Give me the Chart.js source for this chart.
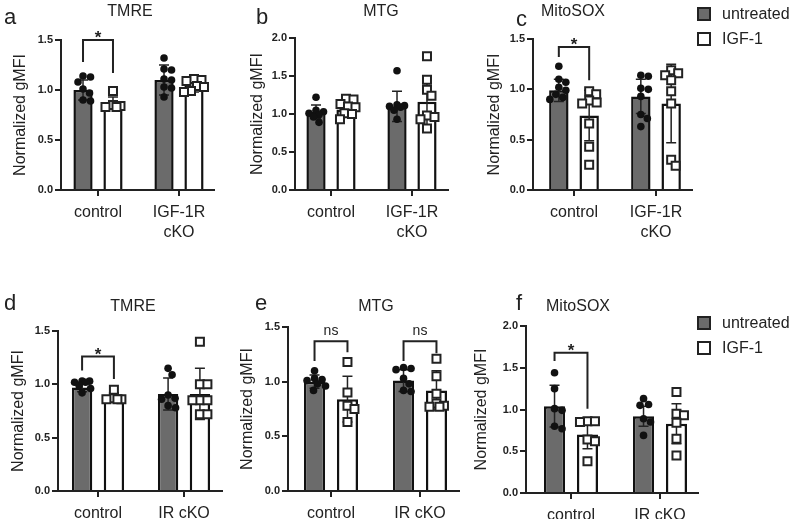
<!DOCTYPE html>
<html>
<head>
<meta charset="utf-8">
<script src="https://cdn.jsdelivr.net/npm/chart.js@4.4.1/dist/chart.umd.min.js"></script>
<style>
  html, body { margin: 0; padding: 0; background: #fff; }
  #fig { position: relative; width: 793px; height: 519px; overflow: hidden;
         font-family: "Liberation Sans", Arial, sans-serif; color: #222; }
  #fig canvas { position: absolute; }
  .letter { position: absolute; font-size: 22px; line-height: 1; }
  .ttl { position: absolute; font-size: 16px; line-height: 1; transform: translateX(-50%); white-space: nowrap; }
  .legend { position: absolute; left: 697px; font-size: 16px; }
  .legend div { display: flex; align-items: center; height: 25px; }
  .legend i { display: inline-block; width: 10px; height: 10px; border: 2.5px solid #222; margin-right: 11px; }
</style>
</head>
<body>
<div id="fig"></div>
<script>
/* Mitochondrial readouts (TMRE / MTG / MitoSOX), untreated vs IGF-1.
   Bars = mean, whiskers = SD, symbols = individual animals. */

const GROUPS_TOP = ['control', ['IGF-1R', 'cKO']];
const GROUPS_BOTTOM = ['control', 'IR cKO'];
const SERIES = ['untreated', 'IGF-1'];

// a — TMRE, IGF-1R cKO
const aUntMean = [1.00, 1.10], aUntSd = [0.10, 0.15];
const aUntPts = [[1.14, 1.13, 1.08, 1.01, 0.97, 0.90, 0.89], [1.32, 1.21, 1.20, 1.11, 1.10, 1.03, 1.02, 0.93]];
const aIgfMean = [0.87, 1.04], aIgfSd = [0.06, 0.06];
const aIgfPts = [[0.99, 0.85, 0.84, 0.83, 0.83], [1.11, 1.10, 1.09, 1.04, 1.03, 0.99, 0.98]];
const aSig = [{ g: 1, top: 1.50, l: 1.28, r: 1.17, text: '*' }];

// b — MTG, IGF-1R cKO
const bUntMean = [1.03, 1.10], bUntSd = [0.09, 0.20];
const bUntPts = [[1.22, 1.05, 1.03, 1.01, 0.99, 0.96, 0.89], [1.57, 1.12, 1.11, 1.10, 1.09, 1.05, 0.93]];
const bIgfMean = [1.06, 1.16], bIgfSd = [0.10, 0.34];
const bIgfPts = [[1.20, 1.19, 1.13, 1.10, 1.09, 1.01, 1.00, 0.93], [1.76, 1.45, 1.32, 1.24, 0.98, 0.96, 0.93, 0.81]];
const bSig = [];

// c — MitoSOX, IGF-1R cKO
const cUntMean = [0.99, 0.93], cUntSd = [0.11, 0.17];
const cUntPts = [[1.23, 1.10, 1.07, 1.02, 0.99, 0.95, 0.92, 0.90], [1.14, 1.13, 1.01, 1.00, 0.93, 0.75, 0.71, 0.63]];
const cIgfMean = [0.74, 0.86], cIgfSd = [0.25, 0.39];
const cIgfPts = [[0.98, 0.95, 0.89, 0.87, 0.86, 0.66, 0.43, 0.25], [1.19, 1.16, 1.14, 1.09, 0.98, 0.86, 0.30, 0.24]];
const cSig = [{ g: 1, top: 1.42, l: 1.32, r: 1.09, text: '*' }];

// d — TMRE, IR cKO
const dUntMean = [0.97, 0.91], dUntSd = [0.04, 0.15];
const dUntPts = [[1.03, 1.03, 1.02, 1.02, 0.99, 0.96, 0.92], [1.15, 1.09, 0.90, 0.87, 0.86, 0.80, 0.78]];
const dIgfMean = [0.88, 0.91], dIgfSd = [0.04, 0.24];
const dIgfPts = [[0.95, 0.87, 0.86, 0.86, 0.86], [1.40, 1.00, 1.00, 0.85, 0.85, 0.85, 0.72, 0.72]];
const dSig = [{ g: 1, top: 1.26, l: 1.13, r: 1.05, text: '*' }];

// e — MTG, IR cKO
const eUntMean = [1.00, 1.01], eUntSd = [0.06, 0.10];
const eUntPts = [[1.10, 1.03, 1.02, 1.01, 0.98, 0.96, 0.92], [1.13, 1.12, 1.11, 1.03, 0.98, 0.92, 0.91]];
const eIgfMean = [0.84, 0.92], eIgfSd = [0.21, 0.18];
const eIgfPts = [[1.18, 0.90, 0.78, 0.75, 0.63], [1.21, 1.05, 0.89, 0.80, 0.78, 0.77, 0.77]];
const eSig = [{ g: 1, top: 1.37, l: 1.19, r: 1.27, text: 'ns' }, { g: 2, top: 1.37, l: 1.19, r: 1.26, text: 'ns' }];

// f — MitoSOX, IR cKO
const fUntMean = [1.04, 0.92], fUntSd = [0.25, 0.12];
const fUntPts = [[1.44, 1.25, 1.01, 0.99, 0.80, 0.77], [1.13, 1.06, 1.05, 0.89, 0.85, 0.69]];
const fIgfMean = [0.70, 0.83], fIgfSd = [0.17, 0.24];
const fIgfPts = [[0.86, 0.86, 0.85, 0.64, 0.62, 0.38], [1.21, 0.95, 0.93, 0.84, 0.65, 0.45]];
const fSig = [{ g: 1, top: 1.68, l: 1.58, r: 1.01, text: '*' }];

const FONT = '"Liberation Sans", Arial, sans-serif';
const INK = '#222', GRAY = '#6b6b6b';

// layout of each panel in page pixels (axis positions, tick positions, text anchors)
const PANELS = [
  { letter: 'a', title: 'TMRE', groups: GROUPS_TOP, yMax: 1.5, sig: aSig, legendTop: null,
    unt: [aUntMean, aUntSd, aUntPts], igf: [aIgfMean, aIgfSd, aIgfPts],
    box: [0, 0, 245, 258], yTitleX: 21, axisX: 61, axisEnd: 214, yTop: 40, yBottom: 190, t1: 98, t2: 179,
    letterX: 4, letterBase: 25, titleX: 130, titleBase: 16 },
  { letter: 'b', title: 'MTG', groups: GROUPS_TOP, yMax: 2.0, sig: bSig, legendTop: null,
    unt: [bUntMean, bUntSd, bUntPts], igf: [bIgfMean, bIgfSd, bIgfPts],
    box: [245, 0, 235, 258], yTitleX: 258, axisX: 295, axisEnd: 448, yTop: 38, yBottom: 190, t1: 331, t2: 412,
    letterX: 256, letterBase: 25, titleX: 381, titleBase: 16 },
  { letter: 'c', title: 'MitoSOX', groups: GROUPS_TOP, yMax: 1.5, sig: cSig, legendTop: 1.5,
    unt: [cUntMean, cUntSd, cUntPts], igf: [cIgfMean, cIgfSd, cIgfPts],
    box: [480, 0, 215, 258], yTitleX: 495, axisX: 533, axisEnd: 692, yTop: 39, yBottom: 190, t1: 574, t2: 656,
    letterX: 516, letterBase: 27, titleX: 573, titleBase: 16 },
  { letter: 'd', title: 'TMRE', groups: GROUPS_BOTTOM, yMax: 1.5, sig: dSig, legendTop: null,
    unt: [dUntMean, dUntSd, dUntPts], igf: [dIgfMean, dIgfSd, dIgfPts],
    box: [0, 262, 235, 257], yTitleX: 19, axisX: 58, axisEnd: 222, yTop: 331, yBottom: 491, t1: 98, t2: 184,
    letterX: 4, letterBase: 311, titleX: 133, titleBase: 311 },
  { letter: 'e', title: 'MTG', groups: GROUPS_BOTTOM, yMax: 1.5, sig: eSig, legendTop: null,
    unt: [eUntMean, eUntSd, eUntPts], igf: [eIgfMean, eIgfSd, eIgfPts],
    box: [235, 262, 235, 257], yTitleX: 248, axisX: 288, axisEnd: 459, yTop: 327, yBottom: 491, t1: 331, t2: 420,
    letterX: 255, letterBase: 311, titleX: 376, titleBase: 311 },
  { letter: 'f', title: 'MitoSOX', groups: GROUPS_BOTTOM, yMax: 2.0, sig: fSig, legendTop: 310,
    unt: [fUntMean, fUntSd, fUntPts], igf: [fIgfMean, fIgfSd, fIgfPts],
    box: [470, 262, 230, 257], yTitleX: 482, axisX: 526, axisEnd: 698, yTop: 326, yBottom: 493, t1: 571, t2: 660,
    letterX: 516, letterBase: 311, titleX: 578, titleBase: 311 }
];

// beeswarm kept inside the bar: nudge each symbol sideways (up to `half` px) to the
// first free slot, otherwise to the least crowded one
function swarm(vals, yScale, xc, half) {
  const D = 7.5, placed = [];
  return vals.map(v => {
    const py = yScale.getPixelForValue(v);
    let best = 0, bestGap = -1;
    for (let k = 0; k <= 4 * half; k++) {
      const off = (k % 2 ? 1 : -1) * Math.ceil(k / 2) * 0.5;
      const gap = placed.reduce((g, q) => Math.min(g, Math.hypot(q.x - off, q.y - py)), Infinity);
      if (gap >= D) { best = off; break; }
      if (gap > bestGap) { best = off; bestGap = gap; }
    }
    placed.push({ x: best, y: py });
    return { x: xc + best, y: py };
  });
}

const marks = {
  id: 'marks',
  afterDatasetsDraw(chart, args, opts) {
    const { ctx } = chart, y = chart.scales.y;
    const metas = chart.data.datasets.map((ds, di) => chart.getDatasetMeta(di));
    ctx.save();
    // SD whiskers
    ctx.strokeStyle = INK; ctx.lineWidth = 1.5;
    chart.data.datasets.forEach((ds, di) => {
      metas[di].data.forEach((bar, gi) => {
        const m = ds.data[gi].y, s = ds.sd[gi], x = bar.x;
        const y0 = y.getPixelForValue(m - s), y1 = y.getPixelForValue(m + s);
        ctx.beginPath();
        ctx.moveTo(x, y0); ctx.lineTo(x, y1);
        ctx.moveTo(x - 5, y1); ctx.lineTo(x + 5, y1);
        ctx.moveTo(x - 5, y0); ctx.lineTo(x + 5, y0);
        ctx.stroke();
      });
    });
    // individual values
    chart.data.datasets.forEach((ds, di) => {
      metas[di].data.forEach((bar, gi) => {
        swarm(ds.points[gi], y, bar.x, Math.round(bar.width / 2)).forEach(p => {
          ctx.beginPath();
          if (ds.symbol === 'circle') {
            ctx.arc(p.x, p.y, 3.8, 0, Math.PI * 2);
            ctx.fillStyle = '#111'; ctx.fill();
          } else {
            ctx.rect(p.x - 4, p.y - 4, 8, 8);
            ctx.fillStyle = '#fff'; ctx.fill();
            ctx.lineWidth = 2; ctx.strokeStyle = INK; ctx.stroke();
          }
        });
      });
    });
    // significance brackets
    ctx.strokeStyle = INK; ctx.lineWidth = 2; ctx.lineJoin = 'miter';
    ctx.fillStyle = INK; ctx.textAlign = 'center'; ctx.textBaseline = 'alphabetic';
    (opts.sig || []).forEach(b => {
      const xl = metas[0].data[b.g - 1].x, xr = metas[1].data[b.g - 1].x;
      const yt = y.getPixelForValue(b.top);
      ctx.beginPath();
      ctx.moveTo(xl, y.getPixelForValue(b.l)); ctx.lineTo(xl, yt);
      ctx.lineTo(xr, yt); ctx.lineTo(xr, y.getPixelForValue(b.r));
      ctx.stroke();
      if (b.text === '*') {
        ctx.font = 'bold 17px ' + FONT;
        ctx.fillText(b.text, (xl + xr) / 2, yt + 3);
      } else {
        ctx.font = '14px ' + FONT;
        ctx.fillText(b.text, (xl + xr) / 2, yt - 6);
      }
    });
    ctx.restore();
  }
};

function addText(cls, txt, left, top) {
  const el = document.createElement('div');
  el.className = cls; el.textContent = txt;
  el.style.left = left + 'px'; el.style.top = top + 'px';
  document.getElementById('fig').appendChild(el);
}

function addLegend(top) {
  const box = document.createElement('div');
  box.className = 'legend'; box.style.top = top + 'px';
  SERIES.forEach((name, i) => {
    const row = document.createElement('div');
    const sw = document.createElement('i');
    sw.style.background = i === 0 ? GRAY : '#fff';
    row.appendChild(sw);
    row.appendChild(document.createTextNode(name));
    box.appendChild(row);
  });
  document.getElementById('fig').appendChild(box);
}

function makePanel(p) {
  const [bl, bt, bw, bh] = p.box;
  const cv = document.createElement('canvas');
  cv.width = bw; cv.height = bh;
  cv.style.left = bl + 'px'; cv.style.top = bt + 'px';
  document.getElementById('fig').appendChild(cv);

  const TITLE_HALF = 9.6; // half line height of the 16px y-title
  const padLeft = p.yTitleX - TITLE_HALF - bl;
  const yWidth = p.axisX - bl - padLeft;
  const xHeight = Math.min(50, bt + bh - p.yBottom);
  const padBottom = bt + bh - p.yBottom - xHeight;
  const unit = p.t2 - p.t1;
  const xMin = 1 - (p.t1 - p.axisX) / unit, xMax = 2 + (p.axisEnd - p.t2) / unit;

  const mk = (label, [mean, sd, pts], fill, symbol) => ({
    label, data: mean.map((v, i) => ({ x: i + 1, y: v })), sd, points: pts, symbol,
    backgroundColor: fill, borderColor: '#111', borderWidth: 2.5,
    categoryPercentage: 0.74, barPercentage: 0.64
  });

  new Chart(cv, {
    type: 'bar',
    data: { datasets: [mk(SERIES[0], p.unt, GRAY, 'circle'), mk(SERIES[1], p.igf, '#fff', 'square')] },
    options: {
      responsive: false, animation: false, devicePixelRatio: 1,
      layout: { padding: { left: padLeft, top: p.yTop - bt, right: bl + bw - p.axisEnd, bottom: padBottom } },
      plugins: { legend: { display: false }, tooltip: { enabled: false }, marks: { sig: p.sig } },
      scales: {
        x: {
          type: 'linear', min: xMin, max: xMax, bounds: 'data', offset: false,
          // one tick per group, at the group's index
          afterBuildTicks: s => { s.ticks = p.groups.map((g, i) => ({ value: i + 1 })); },
          afterFit: s => { s.height = xHeight; },
          ticks: { autoSkip: false, maxRotation: 0, padding: 7, color: INK,
                   font: { family: FONT, size: 16, lineHeight: 1.25 },
                   callback: v => p.groups[v - 1] },
          grid: { offset: false, drawOnChartArea: false, tickLength: 6, color: INK, lineWidth: 2 },
          border: { color: INK, width: 2 }
        },
        y: {
          min: 0, max: p.yMax,
          afterFit: s => { s.width = yWidth; },
          ticks: { stepSize: 0.5, padding: 2, color: INK, font: { family: FONT, size: 11, weight: 'bold' },
                   callback: v => v.toFixed(1) },
          grid: { drawOnChartArea: false, tickLength: 6, color: INK, lineWidth: 2 },
          border: { color: INK, width: 2 },
          title: { display: true, text: 'Normalized gMFI', color: INK, padding: 0,
                   font: { family: FONT, size: 16, lineHeight: 1.2 } }
        }
      }
    },
    plugins: [marks]
  });

  addText('letter', p.letter, p.letterX, p.letterBase - 18.6);
  addText('ttl', p.title, p.titleX, p.titleBase - 13.5);
  if (p.legendTop !== null) addLegend(p.legendTop);
}

PANELS.forEach(makePanel);
</script>
</body>
</html>
